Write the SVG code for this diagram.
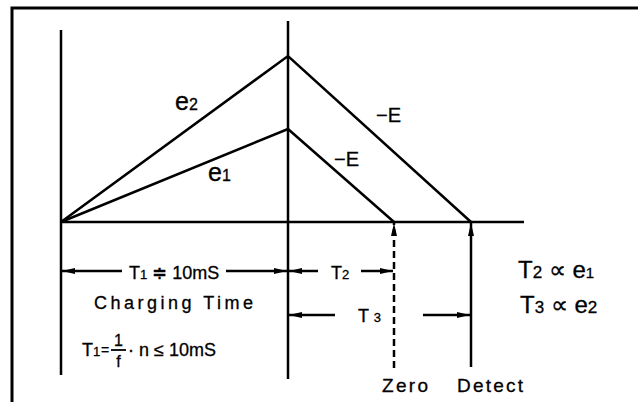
<svg xmlns="http://www.w3.org/2000/svg" width="638" height="402" viewBox="0 0 638 402">
<style>
.ln{stroke:#000;stroke-width:2.5;fill:none}
.fr{stroke:#000;stroke-width:3;fill:none}
.t{font-family:"Liberation Sans",Arial,sans-serif;font-size:18px;fill:#000;stroke:#000;stroke-width:0.3}
.s{font-size:13px}
</style>
<defs>
<marker id="ah" markerUnits="userSpaceOnUse" markerWidth="14" markerHeight="8" refX="13" refY="4" orient="auto-start-reverse">
<path d="M0,1 L13,4 L0,7 z" fill="#000"/>
</marker>
</defs>
<rect width="638" height="402" fill="#fff"/>
<g id="frame">
<path class="fr" d="M12,402 V8 H638"/>
</g>
<g id="axes">
<line class="ln" x1="61" y1="30" x2="61" y2="375"/>
<line class="ln" x1="288" y1="21" x2="288" y2="379"/>
<line class="ln" x1="61" y1="222" x2="524" y2="222"/>
</g>
<g id="ramps">
<polyline class="ln" points="61,222 288,56 471,222"/>
<polyline class="ln" points="61,222 288,129 394,222"/>
</g>
<g id="connectors">
<line class="ln" x1="122" y1="271" x2="62" y2="271" marker-end="url(#ah)"/>
<line class="ln" x1="226" y1="271" x2="287" y2="271" marker-end="url(#ah)"/>
<line class="ln" x1="318" y1="271" x2="289" y2="271" marker-end="url(#ah)"/>
<line class="ln" x1="361" y1="271" x2="393" y2="271" marker-end="url(#ah)"/>
<line class="ln" x1="335" y1="315" x2="289" y2="315" marker-end="url(#ah)"/>
<line class="ln" x1="423" y1="315" x2="470" y2="315" marker-end="url(#ah)"/>
<line class="ln" x1="394" y1="368" x2="394" y2="223" stroke-dasharray="7,4" marker-end="url(#ah)"/>
<line class="ln" x1="471" y1="367" x2="471" y2="223" marker-end="url(#ah)"/>
</g>
<g id="labels">
<text class="t" x="175" y="110" style="font-size:25px">e<tspan style="font-size:16px">2</tspan></text>
<text class="t" x="208" y="181" style="font-size:25px">e<tspan style="font-size:16px">1</tspan></text>
<text class="t" x="376" y="122" style="font-size:20px">−E</text>
<text class="t" x="334" y="166" style="font-size:20px">−E</text>
<text class="t" x="129" y="279">T<tspan class="s">1</tspan> ≑ 10mS</text>
<text class="t" x="331" y="279">T<tspan class="s">2</tspan></text>
<text class="t" x="358" y="322">T <tspan class="s">3</tspan></text>
<text class="t" x="94" y="309" textLength="159">Charging Time</text>
<text class="t" x="82" y="356">T<tspan class="s">1</tspan></text>
<text class="t" x="101" y="355" style="font-size:14px">=</text>
<line x1="111" y1="350" x2="126" y2="350" stroke="#000" stroke-width="1.8"/>
<text class="t" x="118.5" y="346" text-anchor="middle" style="font-size:16px">1</text>
<text class="t" x="118.5" y="367" text-anchor="middle" style="font-size:16px">f</text>
<text class="t" x="128" y="356">· n ≤ 10mS</text>
<text class="t" x="382" y="392" style="font-size:19px" textLength="46">Zero</text>
<text class="t" x="457" y="392" style="font-size:19px" textLength="66">Detect</text>
<text class="t" x="518" y="278" style="font-size:24px">T<tspan style="font-size:17px">2</tspan> ∝ e<tspan style="font-size:15px">1</tspan></text>
<text class="t" x="520" y="313" style="font-size:24px">T<tspan style="font-size:17px">3</tspan> ∝ e<tspan style="font-size:17px">2</tspan></text>
</g>
</svg>
